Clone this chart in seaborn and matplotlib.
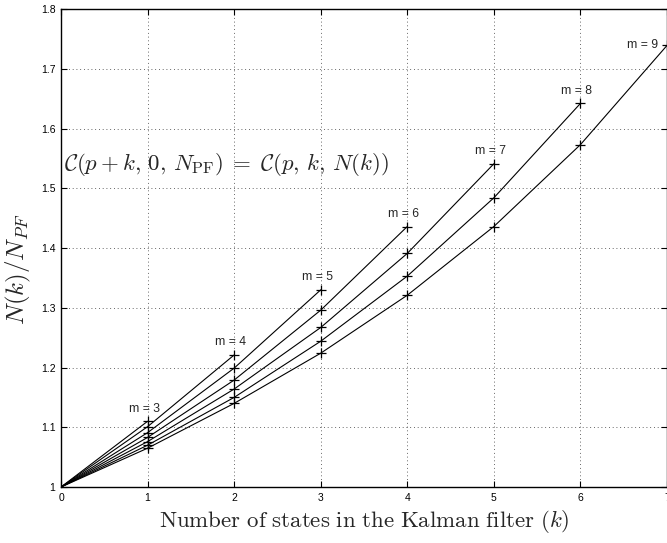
import numpy as np
import pandas as pd
import matplotlib
matplotlib.use("Agg")
import matplotlib.pyplot as plt
import seaborn as sns

# Ratio N(k)/N_PF for each particle-filter dimension m, k = 0 .. m-2
k_values = list(range(0, 8))
ratio_m3 = [1.0, 1.110]
ratio_m4 = [1.0, 1.101, 1.221]
ratio_m5 = [1.0, 1.091, 1.199, 1.330]
ratio_m6 = [1.0, 1.083, 1.179, 1.296, 1.436]
ratio_m7 = [1.0, 1.076, 1.164, 1.267, 1.391, 1.541]
ratio_m8 = [1.0, 1.070, 1.150, 1.244, 1.353, 1.484, 1.642]
ratio_m9 = [1.0, 1.065, 1.140, 1.224, 1.321, 1.436, 1.573, 1.739]
series = {3: ratio_m3, 4: ratio_m4, 5: ratio_m5, 6: ratio_m6,
          7: ratio_m7, 8: ratio_m8, 9: ratio_m9}

x_ticks = [0, 1, 2, 3, 4, 5, 6, 7]
y_ticks = [1.0, 1.1, 1.2, 1.3, 1.4, 1.5, 1.6, 1.7, 1.8]
y_tick_labels = ["1", "1.1", "1.2", "1.3", "1.4", "1.5", "1.6", "1.7", "1.8"]

rows = []
for m, vals in series.items():
    for k, v in zip(k_values, vals):
        rows.append({"m": m, "k": k, "ratio": v})
df = pd.DataFrame(rows)

sns.set_theme(style="white")
plt.rcParams["mathtext.fontset"] = "cm"
plt.rcParams["font.family"] = ["Liberation Sans", "DejaVu Sans"]

fig = plt.figure(figsize=(6.67, 5.43), dpi=100)
ax = fig.add_axes([0.0915, 0.1031, 0.9085, 0.8803])

black = {m: "black" for m in series}
sns.lineplot(data=df, x="k", y="ratio", hue="m", palette=black,
             linewidth=0.8, legend=False, ax=ax, sort=True, estimator=None)
sns.scatterplot(data=df[df["k"] >= 1], x="k", y="ratio", marker="+",
                color="black", s=45, linewidth=0.9, legend=False, ax=ax,
                zorder=3, clip_on=False)

# Curve labels above the last point of each curve
for m, vals in series.items():
    kl = len(vals) - 1
    if m == 9:
        ax.text(kl - 0.1, vals[-1], f"m = {m}", ha="right", va="center",
                fontsize=8.8)
    else:
        ax.text(kl - 0.04, vals[-1] + 0.011, f"m = {m}", ha="center",
                va="bottom", fontsize=8.8)

ax.text(0.04, 1.54,
        r"$\mathcal{C}(p+k,\,0,\,N_{\rm PF})\;=\;\mathcal{C}(p,\,k,\,N(k))$",
        fontsize=16.5, ha="left", va="center")

ax.set_xlim(0, 7)
ax.set_ylim(1, 1.8)
ax.set_xticks(x_ticks)
ax.set_yticks(y_ticks)
ax.set_yticklabels(y_tick_labels)
ax.set_xlabel(r"$\mathrm{Number\ of\ states\ in\ the\ Kalman\ filter\ }(k)$",
              fontsize=16.5, labelpad=4)
ax.set_ylabel(r"$N(k)/N_{PF}$", fontsize=18)
ax.yaxis.set_label_coords(-0.046, 0.455)

ax.grid(True, color="black", linestyle=(0, (1, 3.5)), linewidth=0.6, alpha=0.8)
ax.tick_params(direction="in", length=4, width=0.8, labelsize=7.5,
               top=True, right=True, bottom=True, left=True, colors="black",
               pad=4)
for side in ax.spines.values():
    side.set_color("black")
    side.set_linewidth(1.0)

fig.savefig("out.png", dpi=100)
